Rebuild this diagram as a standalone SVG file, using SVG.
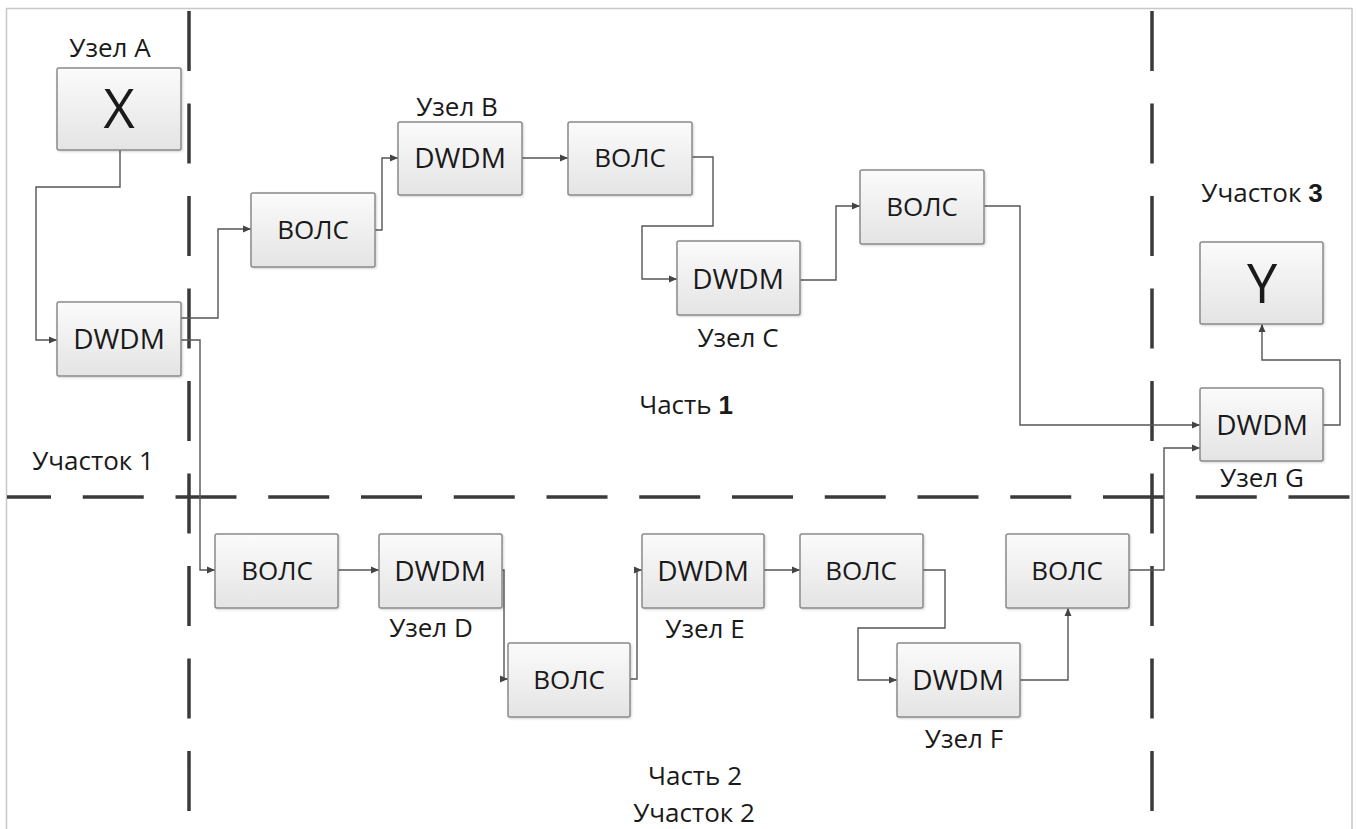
<svg xmlns="http://www.w3.org/2000/svg" width="1357" height="829" viewBox="0 0 1357 829">
<defs>
<linearGradient id="boxg" x1="0" y1="0" x2="0" y2="1">
<stop offset="0" stop-color="#fbfbfb"/>
<stop offset="1" stop-color="#e4e4e4"/>
</linearGradient>
<filter id="sh" x="-10%" y="-10%" width="120%" height="130%">
<feDropShadow dx="1" dy="1" stdDeviation="0.8" flood-color="#000" flood-opacity="0.18"/>
</filter>
<marker id="arr" markerUnits="userSpaceOnUse" markerWidth="10" markerHeight="10" viewBox="0 0 10 10" refX="9" refY="5" orient="auto">
<path d="M1,1.5 L9,5 L1,8.5 Z" fill="#444"/>
</marker>
</defs>
<style>
.box{fill:url(#boxg);stroke:#8a8a8a;stroke-width:1.5;filter:url(#sh)}
.t{font-family:"Open Sans","Noto Sans",sans-serif;font-size:26px;fill:#1a1a1a;text-anchor:middle}
.d{font-size:28px}
.big{font-size:54px}
.b{font-family:"Liberation Sans",Arial,sans-serif;font-weight:bold}
.dv{stroke:#3a3a3a;stroke-width:3.5;stroke-dasharray:60 32.5;fill:none}
.dh{stroke:#3a3a3a;stroke-width:3.5;stroke-dasharray:61 31.75;fill:none}
.c{fill:none;stroke:#555;stroke-width:1.4;marker-end:url(#arr)}
</style>
<rect x="6.5" y="8.5" width="1345.5" height="830" fill="#fff" stroke="#c8c8c8" stroke-width="1.5"/>

<g id="boundaries">
<line class="dv" x1="189" y1="11" x2="189" y2="829"/>
<line class="dv" x1="1152" y1="11" x2="1152" y2="829"/>
<line class="dh" x1="7" y1="497" x2="1350" y2="497" stroke-dashoffset="17"/>
</g>

<g id="connectors">
<path class="c" d="M120,150 V187 H36 V340 H57"/>
<path class="c" d="M181,318 H218 V229 H251"/>
<path class="c" d="M181,340 H200 V570 H215"/>
<path class="c" d="M375,230 H382 V158 H398"/>
<path class="c" d="M522,158 H568"/>
<path class="c" d="M692,157 H713 V226 H642 V279 H677"/>
<path class="c" d="M800,280 H836 V206 H860"/>
<path class="c" d="M984,206 H1020 V425 H1200"/>
<path class="c" d="M1323,425 H1340 V360 H1262 V324"/>
<path class="c" d="M338,570 H379"/>
<path class="c" d="M502,570 H504 V679 H508"/>
<path class="c" d="M630,679 H637 V570 H642"/>
<path class="c" d="M764,570 H800"/>
<path class="c" d="M923,570 H945 V628 H858 V680 H897"/>
<path class="c" d="M1020,680 H1068 V608"/>
<path class="c" d="M1129,570 H1164 V448 H1200"/>
</g>

<g id="nodeX">
<rect class="box" x="57" y="68" width="124" height="82" rx="2"/>
<text class="t big" x="119" y="128">X</text>
<text class="t" x="110" y="57">Узел А</text>
</g>
<g id="dwdmA">
<rect class="box" x="57" y="302" width="124" height="74" rx="2"/>
<text class="t d" x="119" y="349">DWDM</text>
</g>
<g id="vols1">
<rect class="box" x="251" y="193" width="124" height="74" rx="2"/>
<text class="t" x="313" y="239">ВОЛС</text>
</g>
<g id="dwdmB">
<rect class="box" x="398" y="122" width="124" height="73" rx="2"/>
<text class="t d" x="460" y="168">DWDM</text>
<text class="t" x="457" y="116">Узел B</text>
</g>
<g id="vols2">
<rect class="box" x="568" y="122" width="124" height="73" rx="2"/>
<text class="t" x="630" y="167">ВОЛС</text>
</g>
<g id="dwdmC">
<rect class="box" x="677" y="241" width="123" height="74" rx="2"/>
<text class="t d" x="738" y="289">DWDM</text>
<text class="t" x="738" y="347">Узел C</text>
</g>
<g id="vols3">
<rect class="box" x="860" y="170" width="124" height="74" rx="2"/>
<text class="t" x="922" y="216">ВОЛС</text>
</g>
<g id="nodeY">
<rect class="box" x="1200" y="242" width="123" height="82" rx="2"/>
<text class="t big" x="1262" y="303">Y</text>
</g>
<g id="dwdmG">
<rect class="box" x="1200" y="388" width="123" height="73" rx="2"/>
<text class="t d" x="1262" y="435">DWDM</text>
<text class="t" x="1262" y="487">Узел G</text>
</g>
<g id="vols4">
<rect class="box" x="215" y="534" width="123" height="74" rx="2"/>
<text class="t" x="277" y="580">ВОЛС</text>
</g>
<g id="dwdmD">
<rect class="box" x="379" y="534" width="123" height="74" rx="2"/>
<text class="t d" x="440" y="581">DWDM</text>
<text class="t" x="431" y="637">Узел D</text>
</g>
<g id="vols5">
<rect class="box" x="508" y="643" width="122" height="74" rx="2"/>
<text class="t" x="569" y="689">ВОЛС</text>
</g>
<g id="dwdmE">
<rect class="box" x="642" y="534" width="122" height="74" rx="2"/>
<text class="t d" x="703" y="581">DWDM</text>
<text class="t" x="705" y="638">Узел E</text>
</g>
<g id="vols6">
<rect class="box" x="800" y="534" width="123" height="74" rx="2"/>
<text class="t" x="861" y="580">ВОЛС</text>
</g>
<g id="dwdmF">
<rect class="box" x="897" y="643" width="123" height="74" rx="2"/>
<text class="t d" x="958" y="690">DWDM</text>
<text class="t" x="964" y="748">Узел F</text>
</g>
<g id="vols7">
<rect class="box" x="1006" y="534" width="123" height="74" rx="2"/>
<text class="t" x="1067" y="580">ВОЛС</text>
</g>

<g id="labels">
<text class="t" x="1262" y="202">Участок <tspan class="b">3</tspan></text>
<text class="t" x="686" y="414">Часть <tspan class="b">1</tspan></text>
<text class="t" x="93" y="470">Участок 1</text>
<text class="t" x="695" y="785">Часть 2</text>
<text class="t" x="694" y="822">Участок 2</text>
</g>
</svg>
